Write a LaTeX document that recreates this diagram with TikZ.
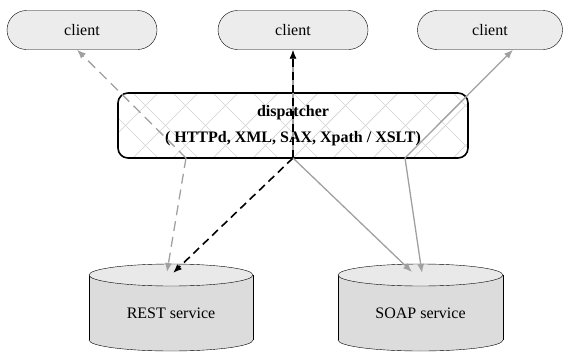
\documentclass[tikz,border=0pt]{standalone}
\usepackage{fontspec}
\setmainfont{Liberation Serif}
\usetikzlibrary{arrows.meta}

\definecolor{boxgray}{HTML}{ECECEC}
\definecolor{dbside}{HTML}{DCDCDC}
\definecolor{dbtop}{HTML}{E9E9E9}
\definecolor{flowgray}{HTML}{A0A0A0}
\definecolor{hatchgray}{HTML}{D2D2D2}

\tikzset{
  client/.style={draw, fill=boxgray, rounded corners=19.5pt, minimum width=150pt,
    minimum height=39pt, font=\fontsize{16}{19}\selectfont},
  dispatch/.style={draw, line width=1.6pt, rounded corners=10pt, minimum width=350pt,
    minimum height=65pt, align=center, font=\fontsize{16}{26}\selectfont\bfseries},
  hatch/.style={draw=hatchgray, line width=0.7pt},
  dblabel/.style={font=\fontsize{16}{19}\selectfont},
  tip/.style={-{Latex[length=9pt,width=7pt]}},
  greyflow/.style={tip, draw=flowgray, line width=1.3pt},
  greydash/.style={greyflow, dash pattern=on 10pt off 6pt},
  blackdash/.style={tip, line width=1.6pt, dash pattern=on 8pt off 5pt}
}

\begin{document}
\begin{tikzpicture}[x=1pt,y=-1pt]
  \useasboundingbox (0,0) rectangle (565,351);

  % clients
  \node[client] (c1) at (82,30) {client};
  \node[client] (c2) at (293,30) {client};
  \node[client, minimum width=145pt] (c3) at (490,30) {client};

  % dispatcher with cross hatch
  \node[dispatch, path picture={
      \foreach \k in {-105,-65,...,335} {
        \draw[hatch] ([xshift=\k pt]path picture bounding box.south west) -- ++(65pt,65pt);
        \draw[hatch] ([xshift=\k pt]path picture bounding box.north west) -- ++(65pt,-65pt);
      }}] (disp) at (293,125.5) {dispatcher\\( HTTPd, XML, SAX, Xpath / XSLT)};

  \coordinate (dA) at (186,158);
  \coordinate (dB) at (293,158);
  \coordinate (dC) at (405,158);

  % REST service
  \draw[fill=dbside] (171,340) ellipse [x radius=82pt, y radius=11pt];
  \fill[dbside] (89,275) rectangle (253,340);
  \draw (89,275) -- (89,340) (253,275) -- (253,340);
  \draw[fill=dbtop] (171,275) ellipse [x radius=82pt, y radius=11pt];
  \node[dblabel] (rest) at (171,313) {REST service};
  \coordinate (rest a) at (167,272);
  \coordinate (rest b) at (173,273);

  % SOAP service
  \draw[fill=dbside] (420.5,340) ellipse [x radius=82.5pt, y radius=11pt];
  \fill[dbside] (338,275) rectangle (503,340);
  \draw (338,275) -- (338,340) (503,275) -- (503,340);
  \draw[fill=dbtop] (420.5,275) ellipse [x radius=82.5pt, y radius=11pt];
  \node[dblabel] (soap) at (420.5,313) {SOAP service};
  \coordinate (soap a) at (412,272);
  \coordinate (soap b) at (422,273);

  % flows
  \draw[greydash] (dA) -- ([xshift=-5pt]c1.south);
  \draw[greydash] (dA) -- (rest a);
  \draw[greyflow] (dB) -- (c2.south);
  \draw[blackdash] (dB) -- (c2.south);
  \draw[blackdash] (dB) -- (rest b);
  \draw[greyflow] (dB) -- (soap a);
  \draw[greyflow] (dC) -- (soap b);
  \draw[greyflow] (dC) -- ([xshift=23pt]c3.south);

\end{tikzpicture}
\end{document}
